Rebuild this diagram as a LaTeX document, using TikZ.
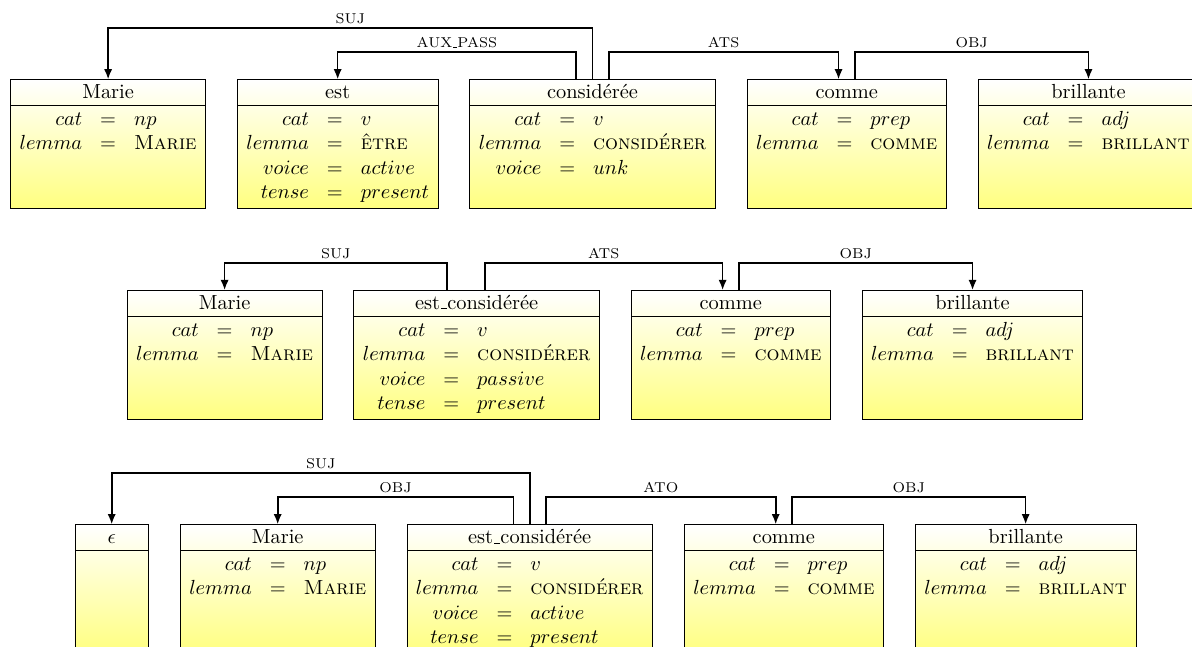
\documentclass[tikz,border=0pt]{standalone}
\usetikzlibrary{shapes.multipart, positioning, arrows.meta}
\setlength{\arraycolsep}{4.4pt}
\newcommand{\featpad}{\rule[-39.6pt]{0pt}{48pt}}
\newcommand{\feats}[1]{$\begin{array}[t]{rcl}#1\end{array}$\featpad}
\newcommand{\word}[1]{\rule[-2.4pt]{0pt}{10.4pt}#1}
\newcommand{\us}{\leavevmode\kern.06em\vbox{\hrule width.3em}}

\begin{document}
\begin{tikzpicture}[
    node distance=0.535cm,
    >={Latex[length=5pt, width=4pt]},
    avm/.style={rectangle split, rectangle split parts=2, draw, thin,
        top color=white, bottom color=yellow!50,
        inner xsep=0pt, inner ysep=1pt, minimum width=36pt},
    dep/.style={->, thick},
    lab/.style={above, inner sep=1.5pt, font=\scriptsize}
]
   \useasboundingbox (-5.05pt,38.9pt) rectangle (579.25pt,-277.8pt);
   \clip (-5.05pt,38.9pt) rectangle (579.25pt,-277.8pt);

   % First analysis
   \node[avm, anchor=north west] (marie1) at (0,0) {\word{Marie}\nodepart{two}\feats{cat &=& np\\ lemma &=& \textsc{Marie}}};
   \node[avm, right=of marie1] (est1) {\word{est}\nodepart{two}\feats{cat &=& v\\ lemma &=& \textsc{être}\\ voice &=& active\\ tense &=& present}};
   \node[avm, right=of est1] (cons1) {\word{considérée}\nodepart{two}\feats{cat &=& v\\ lemma &=& \textsc{considérer}\\ voice &=& unk}};
   \node[avm, right=of cons1] (comme1) {\word{comme}\nodepart{two}\feats{cat &=& prep\\ lemma &=& \textsc{comme}}};
   \node[avm, right=of comme1] (brill1) {\word{brillante}\nodepart{two}\feats{cat &=& adj\\ lemma &=& \textsc{brillant}}};

   % Second analysis
   \node[avm, below right=103.3pt and 57.1pt of marie1.north west] (marie2) {\word{Marie}\nodepart{two}\feats{cat &=& np\\ lemma &=& \textsc{Marie}}};
   \node[avm, right=of marie2] (estcons2) {\word{est\us considérée}\nodepart{two}\feats{cat &=& v\\ lemma &=& \textsc{considérer}\\ voice &=& passive\\ tense &=& present}};
   \node[avm, right=of estcons2] (comme2) {\word{comme}\nodepart{two}\feats{cat &=& prep\\ lemma &=& \textsc{comme}}};
   \node[avm, right=of comme2] (brill2) {\word{brillante}\nodepart{two}\feats{cat &=& adj\\ lemma &=& \textsc{brillant}}};

   % Third analysis
   \node[avm, below right=218.1pt and 31.5pt of marie1.north west] (eps3) {\word{$\epsilon$}\nodepart{two}\featpad};
   \node[avm, right=of eps3] (marie3) {\word{Marie}\nodepart{two}\feats{cat &=& np\\ lemma &=& \textsc{Marie}}};
   \node[avm, right=of marie3] (estcons3) {\word{est\us considérée}\nodepart{two}\feats{cat &=& v\\ lemma &=& \textsc{considérer}\\ voice &=& active\\ tense &=& present}};
   \node[avm, right=of estcons3] (comme3) {\word{comme}\nodepart{two}\feats{cat &=& prep\\ lemma &=& \textsc{comme}}};
   \node[avm, right=of comme3] (brill3) {\word{brillante}\nodepart{two}\feats{cat &=& adj\\ lemma &=& \textsc{brillant}}};

   % Dependencies
   \draw[dep] (cons1.north) -- ++(0,25.2pt) -| node[lab, pos=.25] {SUJ} (marie1.north);
   \draw[dep] ([xshift=-8pt]cons1.north) -- ++(0,13.4pt) -| node[lab, pos=.25] {AUX\us PASS} (est1.north);
   \draw[dep] ([xshift=8pt]cons1.north) -- ++(0,13.4pt) -| node[lab, pos=.25] {ATS} ([xshift=-4pt]comme1.north);
   \draw[dep] ([xshift=4pt]comme1.north) -- ++(0,13.4pt) -| node[lab, pos=.25] {OBJ} (brill1.north);

   \draw[dep] ([xshift=-14.5pt]estcons2.north) -- ++(0,13.4pt) -| node[lab, pos=.25] {SUJ} (marie2.north);
   \draw[dep] ([xshift=4pt]estcons2.north) -- ++(0,13.4pt) -| node[lab, pos=.25] {ATS} ([xshift=-4pt]comme2.north);
   \draw[dep] ([xshift=4pt]comme2.north) -- ++(0,13.4pt) -| node[lab, pos=.25] {OBJ} (brill2.north);

   \draw[dep] (estcons3.north) -- ++(0,25.2pt) -| node[lab, pos=.25] {SUJ} (eps3.north);
   \draw[dep] ([xshift=-8pt]estcons3.north) -- ++(0,13.4pt) -| node[lab, pos=.25] {OBJ} (marie3.north);
   \draw[dep] ([xshift=8pt]estcons3.north) -- ++(0,13.4pt) -| node[lab, pos=.25] {ATO} ([xshift=-4pt]comme3.north);
   \draw[dep] ([xshift=4pt]comme3.north) -- ++(0,13.4pt) -| node[lab, pos=.25] {OBJ} (brill3.north);
\end{tikzpicture}
\end{document}
